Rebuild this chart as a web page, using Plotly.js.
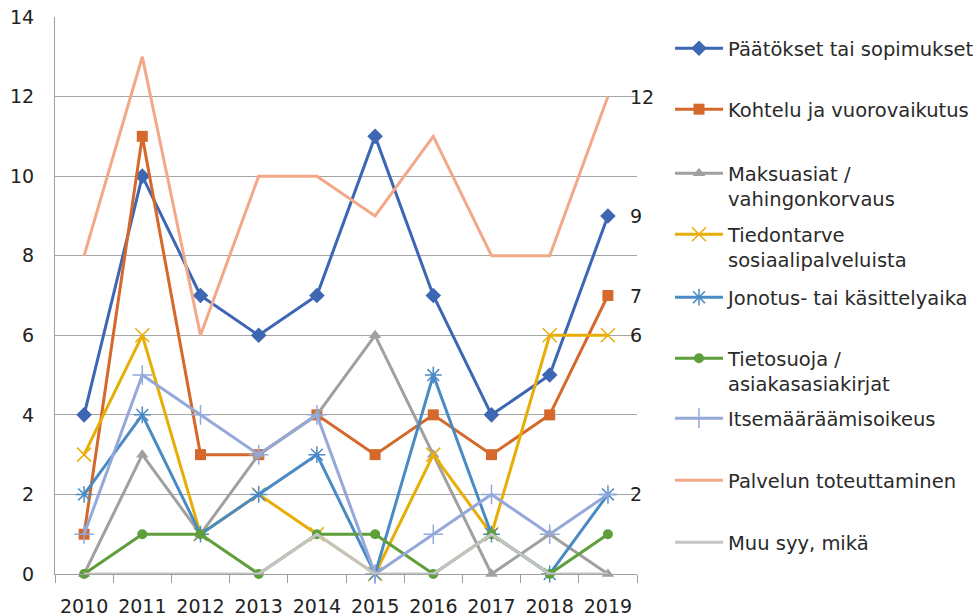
<!DOCTYPE html>
<html>
<head>
<meta charset="utf-8">
<script src="https://cdn.plot.ly/plotly-3.0.1.min.js"></script>
<style>html,body{margin:0;padding:0;background:#fff;}#chart{width:979px;height:616px;}</style>
</head>
<body>
<div id="chart"></div>
<script>
const years = ['2010','2011','2012','2013','2014','2015','2016','2017','2018','2019'];
const seriesNames = [
  'Päätökset tai sopimukset',
  'Kohtelu ja vuorovaikutus',
  'Maksuasiat /<br>vahingonkorvaus',
  'Tiedontarve<br>sosiaalipalveluista',
  'Jonotus- tai käsittelyaika',
  'Tietosuoja /<br>asiakasasiakirjat',
  'Itsemääräämisoikeus',
  'Palvelun toteuttaminen',
  'Muu syy, mikä'
];
const paatokset   = [4, 10, 7, 6, 7, 11, 7, 4, 5, 9];
const kohtelu     = [1, 11, 3, 3, 4, 3, 4, 3, 4, 7];
const maksuasiat  = [0, 3, 1, 3, 4, 6, 3, 0, 1, 0];
const tiedontarve = [3, 6, 1, 2, 1, 0, 3, 1, 6, 6];
const jonotus     = [2, 4, 1, 2, 3, 0, 5, 1, 0, 2];
const tietosuoja  = [0, 1, 1, 0, 1, 1, 0, 1, 0, 1];
const itsemaar    = [1, 5, 4, 3, 4, 0, 1, 2, 1, 2];
const palvelun    = [8, 13, 6, 10, 10, 9, 11, 8, 8, 12];
const muusyy      = [0, 0, 0, 0, 1, 0, 0, 1, 0, 0];
const endLabels = [
  {series: 7, text: '12'},
  {series: 0, text: '9'},
  {series: 1, text: '7'},
  {series: 3, text: '6'},
  {series: 4, text: '2'}
];

const values = [paatokset, kohtelu, maksuasiat, tiedontarve, jonotus, tietosuoja, itsemaar, palvelun, muusyy];
const colors = ['#3d66b3', '#d5692b', '#a0a0a0', '#e8ae08', '#4a8bc4', '#5e9e3b', '#94a8da', '#f3a88a', '#c4c4c4'];
const markers = [
  {symbol: 'diamond', size: 12},
  {symbol: 'square', size: 11},
  {symbol: 'triangle-up', size: 11},
  {symbol: 'x-thin-open', size: 14, line: {width: 1.5, color: '#f2cf6a'}},
  {symbol: 'asterisk-open', size: 14, line: {width: 1.5, color: '#8fbbe3'}},
  {symbol: 'circle', size: 10},
  {symbol: 'cross-thin-open', size: 14, line: {width: 1.5, color: '#94a8da'}},
  null,
  null
];
const legendY = [47, 108, 172, 233, 296, 357, 417, 479, 541];

const plotL = 55, plotR = 637, plotT = 17, plotB = 574;
const W = 979, H = 616;
const pw = plotR - plotL, ph = plotB - plotT;
const lastIdx = years.length - 1;

const traces = values.map((v, i) => {
  const t = {
    type: 'scatter',
    x: years,
    y: v,
    name: seriesNames[i],
    mode: markers[i] ? 'lines+markers' : 'lines',
    line: {color: colors[i], width: 3},
    cliponaxis: false,
    showlegend: true,
    legend: i === 0 ? 'legend' : 'legend' + (i + 1),
    hoverinfo: 'x+y+name'
  };
  if (markers[i]) {
    const m = Object.assign({color: colors[i]}, markers[i]);
    if (!m.line) m.line = {width: 0, color: colors[i]};
    t.marker = m;
  }
  return t;
});

const fam = 'DejaVu Sans, sans-serif';
const layout = {
  width: W, height: H,
  margin: {l: plotL, r: W - plotR, t: plotT, b: H - plotB, autoexpand: false},
  paper_bgcolor: '#fff', plot_bgcolor: '#fff',
  font: {family: fam, size: 19, color: '#222'},
  showlegend: true,
  xaxis: {
    type: 'category',
    range: [-0.5, 9.5],
    tickson: 'boundaries',
    ticks: 'outside', ticklen: 8, tickcolor: '#a0a0a0', tickwidth: 1,
    showline: true, linecolor: '#a0a0a0', linewidth: 1,
    showgrid: false,
    tickangle: 0,
    tickfont: {family: fam, size: 19, color: '#222'},
    ticklabelstandoff: 15,
    automargin: false,
    fixedrange: true
  },
  yaxis: {
    range: [0, 14], dtick: 2, tick0: 0,
    showgrid: true, gridcolor: '#a6a6a6', gridwidth: 1,
    showline: true, linecolor: '#a0a0a0', linewidth: 1,
    zeroline: false,
    ticks: '',
    tickfont: {family: fam, size: 19, color: '#222'},
    ticklabelstandoff: 16,
    automargin: false,
    fixedrange: true
  },
  annotations: endLabels.map(l => ({
    x: lastIdx,
    y: values[l.series][lastIdx],
    xref: 'x', yref: 'y',
    text: l.text,
    showarrow: false,
    xanchor: 'left', yanchor: 'middle',
    xshift: 20,
    font: {family: fam, size: 19, color: '#222'}
  }))
};

legendY.forEach((py, i) => {
  const key = i === 0 ? 'legend' : 'legend' + (i + 1);
  layout[key] = {
    x: (670 - plotL) / pw,
    y: (plotB - (py - 18)) / ph,
    xanchor: 'left', yanchor: 'top',
    valign: 'top',
    bgcolor: 'rgba(0,0,0,0)',
    borderwidth: 0,
    itemwidth: 48,
    font: {family: fam, size: 19.5, color: '#2a2a2a'},
    itemclick: false, itemdoubleclick: false
  };
});

Plotly.newPlot('chart', traces, layout, {displayModeBar: false});
</script>
</body>
</html>
